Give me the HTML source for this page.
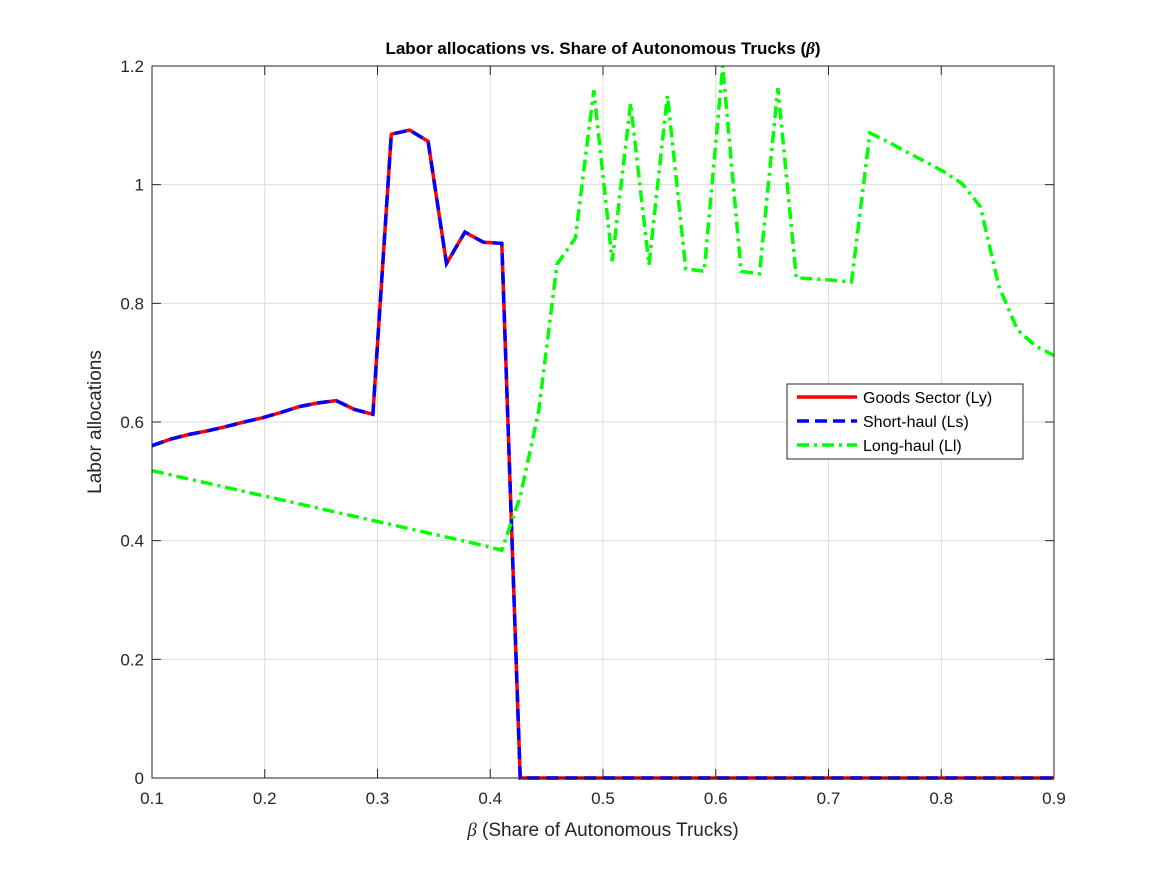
<!DOCTYPE html>
<html><head><meta charset="utf-8"><style>
body{margin:0;background:#fff;}
svg text{font-family:"Liberation Sans",Arial,sans-serif;}
</style></head><body>
<svg id="chart" width="1167" height="875" xmlns="http://www.w3.org/2000/svg">
<rect width="1167" height="875" fill="#fff"/>
<g id="grid"></g>
<g id="series"></g>
<g id="axes"></g>
<text x="603" y="54" text-anchor="middle" font-size="17" font-weight="bold">Labor allocations vs. Share of Autonomous Trucks (<tspan font-style="italic" font-family="Liberation Serif">β</tspan>)</text>
<text x="603" y="836" text-anchor="middle" font-size="19" fill="#262626"><tspan font-style="italic" font-family="Liberation Serif">β</tspan> (Share of Autonomous Trucks)</text>
<text transform="translate(101,422) rotate(-90)" text-anchor="middle" font-size="19" fill="#262626">Labor allocations</text>
<g>
<rect x="787" y="384" width="236" height="75" fill="#fff" stroke="#262626" stroke-width="1"/>
<line x1="797" y1="397" x2="857" y2="397" stroke="#f00" stroke-width="3.5"/>
<text x="863" y="403" font-size="16">Goods Sector (Ly)</text>
<line x1="797" y1="421" x2="857" y2="421" stroke="#00f" stroke-width="3.5" stroke-dasharray="12,6"/>
<text x="863" y="427" font-size="16">Short-haul (Ls)</text>
<line x1="797" y1="445" x2="857" y2="445" stroke="#0f0" stroke-width="3.5" stroke-dasharray="12,5,3,5"/>
<text x="863" y="451" font-size="16">Long-haul (Ll)</text>
</g>
</svg>
<script>
const xTicks=[0.1,0.2,0.3,0.4,0.5,0.6,0.7,0.8,0.9];
const yTicks=[0,0.2,0.4,0.6,0.8,1,1.2];
const yTickLabels=["0","0.2","0.4","0.6","0.8","1","1.2"];
const betaStart=0.1, betaEnd=0.9, nPoints=50;
const goods=[0.56,0.571,0.579,0.585,0.592,0.600,0.607,0.616,0.626,0.632,0.636,0.621,0.613,1.085,1.092,1.073,0.867,0.920,0.903,0.901,0,0,0,0,0,0,0,0,0,0,0,0,0,0,0,0,0,0,0,0,0,0,0,0,0,0,0,0,0,0];
const shortHaul=goods.slice();
const longHaul=[0.518,0.511,0.504,0.497,0.490,0.483,0.476,0.469,0.462,0.455,0.448,0.441,0.434,0.427,0.420,0.413,0.406,0.399,0.392,0.384,0.474,0.617,0.866,0.910,1.159,0.871,1.137,0.865,1.150,0.858,0.854,1.200,0.854,0.850,1.163,0.843,0.841,0.839,0.836,1.087,1.072,1.055,1.039,1.022,1.002,0.963,0.829,0.756,0.728,0.712];
const X0=152,X1=1054,Y0=778,Y1=66;
const xs=v=>X0+(v-0.1)/0.8*(X1-X0);
const ys=v=>Y0-v/1.2*(Y0-Y1);
const NS="http://www.w3.org/2000/svg";
function mk(tag,attrs,parent){const e=document.createElementNS(NS,tag);for(const k in attrs)e.setAttribute(k,attrs[k]);parent.appendChild(e);return e;}
const grid=document.getElementById('grid'),axes=document.getElementById('axes'),series=document.getElementById('series');
xTicks.forEach((t,i)=>{const x=xs(t);
 const g=mk('line',{x1:x,x2:x,y1:Y1,y2:Y0,stroke:'#dcdcdc','stroke-width':1},grid);
 
 
 const t1=mk('line',{x1:x,x2:x,y1:Y0,y2:Y0-9,stroke:'#262626'},axes);
 
 
 const t2=mk('line',{x1:x,x2:x,y1:Y1,y2:Y1+9,stroke:'#262626'},axes);
 
 
 const l=mk('text',{x:x,y:Y0+26,'text-anchor':'middle','font-size':17,fill:'#262626'},axes);
 l.textContent=String(t);
 
 
});
yTicks.forEach((t,i)=>{const y=ys(t);
 const g=mk('line',{x1:X0,x2:X1,y1:y,y2:y,stroke:'#dcdcdc','stroke-width':1},grid);
 
 
 const t1=mk('line',{x1:X0,x2:X0+9,y1:y,y2:y,stroke:'#262626'},axes);
 
 
 const t2=mk('line',{x1:X1,x2:X1-9,y1:y,y2:y,stroke:'#262626'},axes);
 
 
 const l=mk('text',{x:X0-8,y:y+6,'text-anchor':'end','font-size':17,fill:'#262626'},axes);
 l.textContent=yTickLabels[i];
 
 
});
const box=mk('rect',{x:X0,y:Y1,width:X1-X0,height:Y0-Y1,fill:'none',stroke:'#262626','stroke-width':1},axes);


function pts(arr){return arr.map((v,i)=>xs(betaStart+i*(betaEnd-betaStart)/(nPoints-1)).toFixed(1)+','+ys(v).toFixed(1)).join(' ');}
const pg=mk('polyline',{points:pts(goods),fill:'none',stroke:'#f00','stroke-width':3.5,'stroke-linejoin':'round'},series);


const ps=mk('polyline',{points:pts(shortHaul),fill:'none',stroke:'#00f','stroke-width':3.5,'stroke-dasharray':'12,7'},series);


const pl=mk('polyline',{points:pts(longHaul),fill:'none',stroke:'#0f0','stroke-width':3.5,'stroke-dasharray':'12,5,3,5'},series);


</script>
</body></html>
